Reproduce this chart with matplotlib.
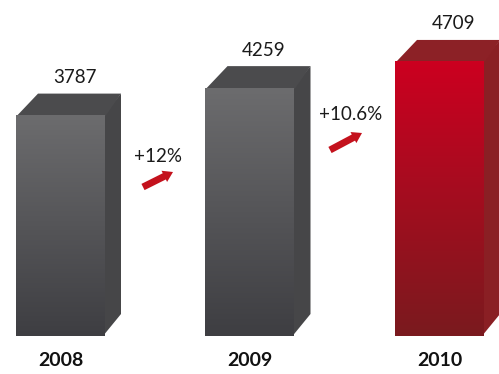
import numpy as np
import matplotlib
matplotlib.use("Agg")
import matplotlib.pyplot as plt
from matplotlib.patches import Polygon
from matplotlib.colors import LinearSegmentedColormap

plt.rcParams['font.family'] = ['Lato', 'DejaVu Sans']

years = ["2008", "2009", "2010"]
values = [3787, 4259, 4709]
growth = ["+12%", "+10.6%"]

W, H = 499, 374
fig = plt.figure(figsize=(W / 100, H / 100), dpi=100)
ax = fig.add_axes([0, 0, 1, 1])
ax.set_axis_off()

# y axis in value units, x axis in pixels
px_per_unit = 0.0582
base_px = 336
ax.set_xlim(0, W)
ax.set_ylim(-(H - base_px) / px_per_unit, base_px / px_per_unit)

left0 = 16
spacing = 189.5
width = 89
depth_x = 16
depth_y = 22 / px_per_unit

styles = [
    dict(top_c="#6c6c6e", bot_c="#3e3e42", side="#464648", cap="#4b4b4d"),
    dict(top_c="#6c6c6e", bot_c="#3e3e42", side="#464648", cap="#4b4b4d"),
    dict(top_c="#cc0020", bot_c="#7a1a1e", side="#8a1f24", cap="#8c2126"),
]

for i, (yr, v) in enumerate(zip(years, values)):
    s = styles[i]
    x0 = left0 + i * spacing
    x1 = x0 + width
    # side face (drawn first, slightly under the front face)
    ax.add_patch(Polygon([(x1 - 2, 0), (x1 + depth_x, depth_y),
                          (x1 + depth_x, v + depth_y), (x1 - 2, v)],
                         closed=True, facecolor=s["side"], edgecolor="none",
                         zorder=1))
    # top face
    ax.add_patch(Polygon([(x0, v - 20), (x1, v - 20), (x1 + depth_x, v + depth_y),
                          (x0 + depth_x + 6, v + depth_y)],
                         closed=True, facecolor=s["cap"], edgecolor="none",
                         zorder=1))
    # front face with vertical gradient
    cmap = LinearSegmentedColormap.from_list("f", [s["bot_c"], s["top_c"]])
    grad = np.linspace(0, 1, 256).reshape(-1, 1)
    ax.imshow(grad, cmap=cmap, extent=[x0, x1, 0, v], origin="lower",
              aspect="auto", zorder=2, interpolation="bilinear")
    # value label
    ax.text(x0 + width / 2 + 14, v + depth_y + 16 / px_per_unit, f"{v}",
            ha="center", va="center", fontsize=13.5, color="#1a1a1a", zorder=5)
    # year label
    ax.text(x0 + width / 2, -24 / px_per_unit, yr, ha="center", va="center",
            fontsize=14, fontweight="bold", color="#111111", zorder=5)

ax.set_xlim(0, W)

# growth arrows between bars
arrow_specs = [
    (158, 156, 143, 187, 173, 172),
    (351, 115, 330, 150, 362, 133),
]
for (tx, ty, ax0, ay0, ax1, ay1), g in zip(arrow_specs, growth):
    fig.text(tx / W, 1 - ty / H, g, ha="center", va="center", fontsize=13.5,
             color="#1a1a1a")
    ax.annotate("", xy=(ax1, base_px / px_per_unit - ay1 / px_per_unit),
                xytext=(ax0, base_px / px_per_unit - ay0 / px_per_unit),
                arrowprops=dict(arrowstyle="simple,head_length=0.7,head_width=0.9,tail_width=0.5",
                                color="#c4121d", lw=0, shrinkA=0, shrinkB=0),
                zorder=4)

fig.savefig("out.png", dpi=100)
